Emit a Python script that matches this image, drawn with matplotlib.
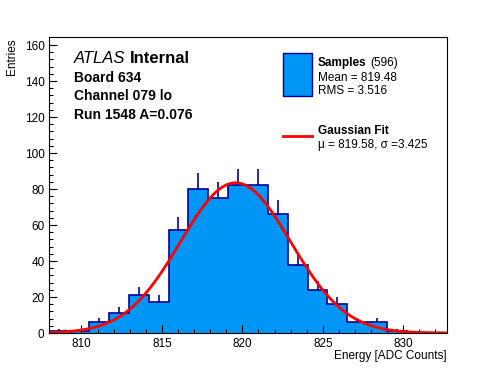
import numpy as np
import matplotlib.pyplot as plt
from matplotlib.patches import Rectangle
from matplotlib.lines import Line2D

plt.rcParams['font.family'] = ['Liberation Sans', 'DejaVu Sans']

# Histogram data (20 bins)
x_lo, x_hi = 808.0, 832.7
counts = [1, 1, 6, 11, 21, 17, 57, 80, 75, 82, 82, 66, 38, 24, 16, 6, 6, 1, 0, 0]

# Fit parameters
fit_amp = 83.5
fit_mu = 819.58
fit_sigma = 3.425

# Text
n_entries = 596
mean_val = 819.48
rms_val = 3.516
atlas_lines = ["Board 634", "Channel 079 lo", "Run 1548 A=0.076"]

W, H = 496, 372


def fpos(x, y):
    # pixel position -> figure fraction
    return x / W, 1 - y / H


fig = plt.figure(figsize=(W / 100, H / 100), dpi=100)
ax = fig.add_axes([49.3 / W, 1 - 333.0 / H, (446.7 - 49.3) / W, (333.0 - 37.3) / H])

counts = np.array(counts, dtype=float)
edges = np.linspace(x_lo, x_hi, len(counts) + 1)
centers = 0.5 * (edges[:-1] + edges[1:])

ax.stairs(counts, edges, fill=True, color='#0096f5', lw=0)
ax.stairs(counts, edges, color='#000099', lw=1.2)
nz = counts > 0
ax.vlines(centers[nz], counts[nz], counts[nz] + np.sqrt(counts[nz]), color='#000099', lw=1.2)

xf = np.linspace(x_lo, x_hi, 100)
ax.plot(xf, fit_amp * np.exp(-0.5 * ((xf - fit_mu) / fit_sigma) ** 2), color='#ff0000', lw=2)

ax.set_xlim(x_lo, x_hi)
ax.set_ylim(0, 164.3)
ax.set_xticks([810, 815, 820, 825, 830])
ax.set_xticks(np.arange(808, 833, 1), minor=True)
ax.set_yticks(np.arange(0, 161, 20))
ax.set_yticks(np.arange(0, 164, 4), minor=True)
ax.tick_params(which='both', direction='in', top=False, right=False, labelsize=8.5)
ax.tick_params(which='major', length=6, width=0.8)
ax.tick_params(which='minor', length=3, width=0.8)
ax.tick_params(axis='x', pad=3.5)
ax.tick_params(axis='y', pad=3.5)
for s in ax.spines.values():
    s.set_linewidth(0.8)

fig.text(*fpos(446.7, 355.7), "Energy [ADC Counts]", ha='right', va='center', fontsize=8.5)
fig.text(*fpos(12, 38), "Entries", ha='center', va='top', rotation=90, fontsize=8.5)

# ATLAS label block
t = fig.text(*fpos(74, 62.7), "ATLAS", style='italic', fontsize=12, va='baseline')
ax.annotate("Internal", xy=(1, 0), xycoords=t, xytext=(3, 0), textcoords='offset points',
            fontsize=12, fontweight='bold', va='bottom')
for i, line in enumerate(atlas_lines):
    fig.text(*fpos(74, 81.7 + 18.7 * i), line, fontsize=10, fontweight='bold', va='baseline')

# Legend
x0, y0 = fpos(283.3, 96.0)
fig.add_artist(Rectangle((x0, y0), 28.4 / W, 42.7 / H, transform=fig.transFigure,
                         facecolor='#0096f5', edgecolor='#000099', lw=1))
t = fig.text(*fpos(317.7, 66), "Samples", fontweight='bold', fontsize=8.5, va='baseline')
ax.annotate("(%d)" % n_entries, xy=(1, 0), xycoords=t, xytext=(2.5, 0), textcoords='offset points',
            fontsize=8.5, va='bottom')
fig.text(*fpos(317.7, 81), "Mean = %.2f" % mean_val, fontsize=8.5, va='baseline')
fig.text(*fpos(317.7, 94.3), "RMS = %.3f" % rms_val, fontsize=8.5, va='baseline')

lx0, ly = fpos(283.3, 136)
lx1, _ = fpos(311.7, 136)
fig.add_artist(Line2D([lx0, lx1], [ly, ly], transform=fig.transFigure, color='#ff0000', lw=2))
fig.text(*fpos(317.7, 133.6), "Gaussian Fit", fontweight='bold', fontsize=8.5, va='baseline')
fig.text(*fpos(317.7, 147.6), "\u03bc = %.2f, \u03c3 =%.3f" % (fit_mu, fit_sigma), fontsize=8.5, va='baseline')

fig.savefig("out.png", dpi=100)
